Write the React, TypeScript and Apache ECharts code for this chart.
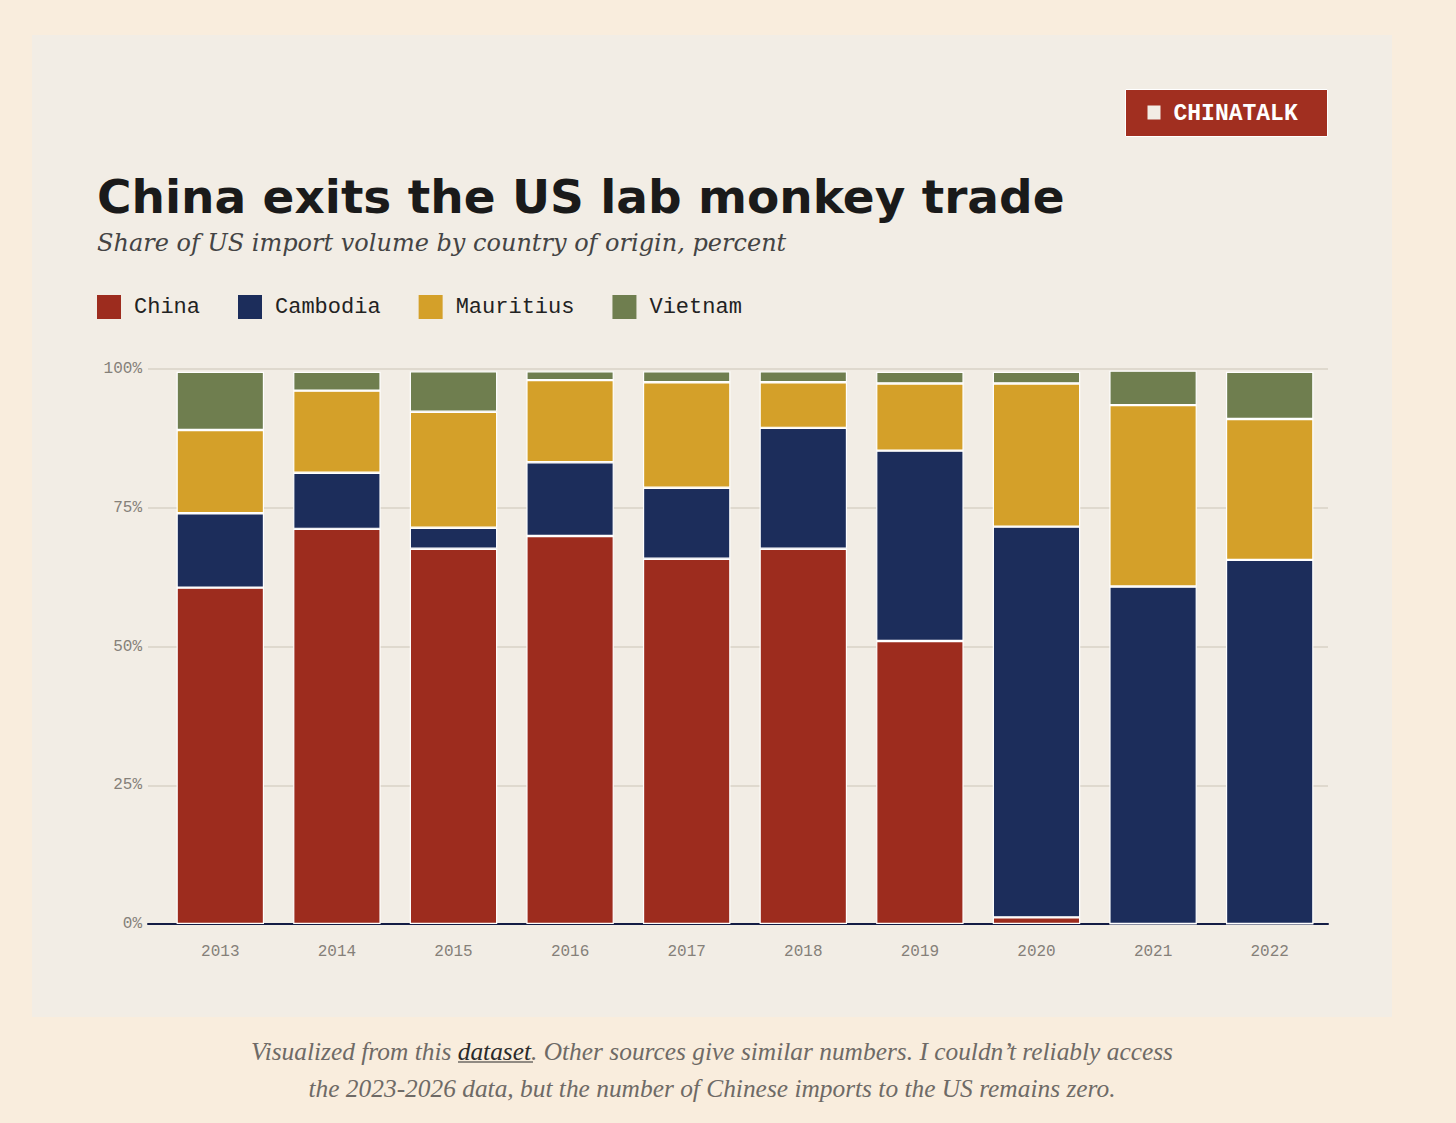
import { useEffect, useRef } from 'react';
import * as echarts from 'echarts';

const years = ['2013', '2014', '2015', '2016', '2017', '2018', '2019', '2020', '2021', '2022'];
const china = [60.6, 71.2, 67.6, 69.9, 65.8, 67.6, 51.0, 1.2, 0, 0];
const cambodia = [13.4, 10.1, 3.8, 13.3, 12.8, 21.8, 34.3, 70.4, 60.8, 65.6];
const mauritius = [15.0, 14.8, 20.9, 14.8, 19.0, 8.2, 12.1, 25.8, 32.7, 25.4];
const vietnam = [10.5, 3.4, 7.3, 1.6, 2.0, 2.0, 2.1, 2.1, 6.2, 8.5];
const yTicks = [0, 25, 50, 75, 100];

const seriesDefs = [
  { name: 'China', data: china, color: '#9d2c1e' },
  { name: 'Cambodia', data: cambodia, color: '#1c2d5b' },
  { name: 'Mauritius', data: mauritius, color: '#d4a029' },
  { name: 'Vietnam', data: vietnam, color: '#6f7e4f' },
];

const MONO = '"Liberation Mono", "Courier New", monospace';
const SERIF = '"DejaVu Serif", Georgia, serif';
const FOOT = '"Liberation Serif", serif';

export default function App() {
  const ref = useRef<HTMLDivElement>(null);

  useEffect(() => {
    if (!ref.current) return;
    const chart = echarts.init(ref.current, undefined, { renderer: 'svg' });
    chart.setOption({
      animation: false,
      backgroundColor: '#f9eddd',
      title: [
        {
          text: 'China exits the US lab monkey trade',
          left: 92,
          top: 168,
          textStyle: { fontFamily: '"DejaVu Sans", "Liberation Sans", sans-serif', fontWeight: 'bold', fontSize: 47, color: '#1a1a1a' },
        },
        {
          text: 'Share of US import volume by country of origin, percent',
          left: 92,
          top: 226,
          textStyle: { fontFamily: SERIF, fontStyle: 'italic', fontWeight: 'normal', fontSize: 24, color: '#444' },
        },
        {
          text:
            "{a|Visualized from this }{u|dataset}{a|. Other sources give similar numbers. I couldn\u2019t reliably access}\n{a|the 2023-2026 data, but the number of Chinese imports to the US remains zero.}",
          left: 707,
          textAlign: 'center',
          top: 1027,
          textStyle: {
            fontWeight: 'normal',
            rich: {
              a: { fontFamily: FOOT, fontStyle: 'italic', fontWeight: 'normal', fontSize: 25.4, color: '#6e6a66', lineHeight: 37 },
              u: { fontFamily: FOOT, fontStyle: 'italic', fontWeight: 'normal', fontSize: 25.4, color: '#2a2a2a', lineHeight: 37 },
            },
          },
        },
      ],
      legend: {
        left: 92,
        top: 290,
        itemWidth: 24,
        itemHeight: 24,
        itemGap: 38,
        icon: 'rect',
        itemStyle: { borderWidth: 0 },
        textStyle: { fontFamily: MONO, fontSize: 22, color: '#222', padding: [0, 0, 0, 8] },
        data: seriesDefs.map((s) => s.name),
      },
      graphic: [
        {
          type: 'rect',
          z: -100,
          shape: { x: 32, y: 35, width: 1360, height: 982 },
          style: { fill: '#f2ede5' },
        },
        {
          type: 'group',
          left: 1125,
          top: 89,
          children: [
            { type: 'rect', shape: { x: 0, y: 0, width: 202, height: 47 }, style: { fill: '#a12f20', stroke: '#ffffff', lineWidth: 1 } },
            { type: 'rect', shape: { x: 22, y: 16, width: 13, height: 14 }, style: { fill: '#f2ede5' } },
            {
              type: 'text',
              x: 48,
              y: 24,
              style: { text: 'CHINATALK', fill: '#ffffff', font: `bold 23px ${MONO}`, verticalAlign: 'middle' },
            },
          ],
        },
        {
          type: 'line',
          shape: { x1: 458, y1: 1062, x2: 533, y2: 1062 },
          style: { stroke: '#2a2a2a', lineWidth: 1.2 },
        },
      ],
      grid: [
        { left: 162, right: 128, top: 369, height: 555 },
        { left: 148, right: 128, top: 369, height: 555 },
      ],
      xAxis: [
        {
          type: 'category',
          gridIndex: 0,
          data: years,
          axisLine: { show: false },
          axisTick: { show: false },
          axisLabel: { fontFamily: MONO, fontSize: 16, color: '#858079', margin: 20 },
        },
        {
          type: 'value',
          gridIndex: 1,
          min: 0,
          max: 1,
          axisLine: { show: true, lineStyle: { color: '#141d45', width: 2 } },
          axisTick: { show: false },
          axisLabel: { show: false },
          splitLine: { show: false },
        },
      ],
      yAxis: [
        {
          type: 'value',
          gridIndex: 0,
          min: 0,
          max: 100,
          interval: 25,
          show: false,
        },
        {
          type: 'value',
          gridIndex: 1,
          min: yTicks[0],
          max: yTicks[yTicks.length - 1],
          interval: 25,
          axisLine: { show: false },
          axisTick: { show: false },
          axisLabel: { fontFamily: MONO, fontSize: 16, color: '#858079', margin: 6, formatter: '{value}%' },
          splitLine: { show: true, lineStyle: { color: '#d8d2c6', width: 1.5 } },
        },
      ],
      series: seriesDefs.map((s) => ({
        name: s.name,
        type: 'bar',
        stack: 'total',
        xAxisIndex: 0,
        yAxisIndex: 0,
        barWidth: '75%',
        data: s.data,
        itemStyle: { color: s.color, borderColor: '#ffffff', borderWidth: 1.2 },
      })),
    });
    return () => chart.dispose();
  }, []);

  return (
    <div style={{ position: 'absolute', left: 0, top: 0, width: 1456, height: 1123 }}>
      <div ref={ref} style={{ width: 1456, height: 1123 }} />
    </div>
  );
}
